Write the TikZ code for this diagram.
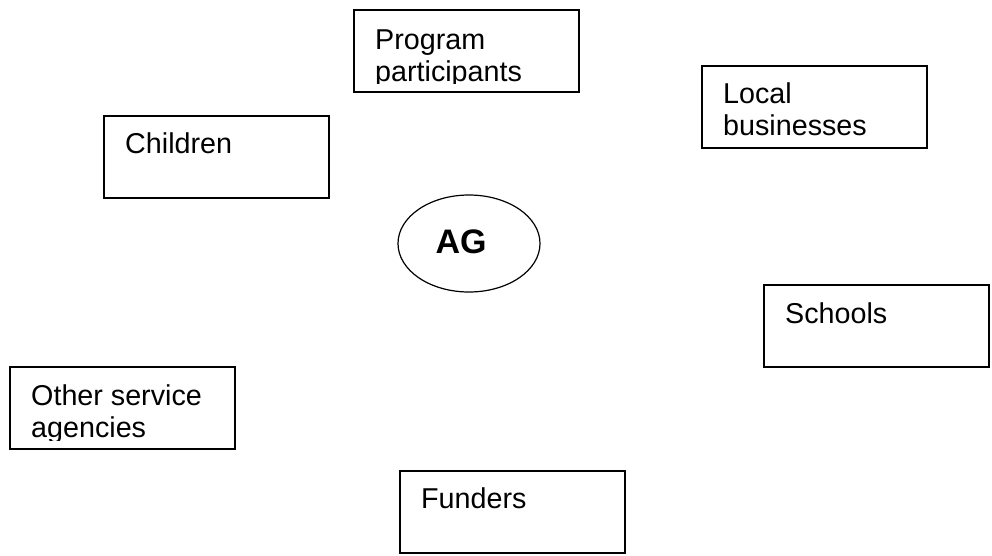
\documentclass[tikz,border=0pt]{standalone}
\usepackage{fontspec}
\setmainfont{Liberation Sans}
\usetikzlibrary{shapes.geometric}
\begin{document}
\begin{tikzpicture}[x=1pt,y=-1pt,
  stakebox/.style={draw, line width=1.5pt, rectangle, inner sep=0pt,
    minimum width=225pt, minimum height=82pt, anchor=north west},
  stakelabel/.style={inner sep=0pt, anchor=base west, align=left,
    font=\fontsize{28.7}{32}\selectfont},
  hub/.style={draw, line width=1.2pt, ellipse, inner sep=0pt,
    minimum width=142pt, minimum height=97pt},
  hublabel/.style={inner sep=0pt, anchor=base, font=\fontsize{34}{36}\selectfont\bfseries}]
\useasboundingbox (0,0) rectangle (992,555);

% a framed stakeholder box whose text is cut off near the bottom edge;
% #4 is the drop from the top edge to the baseline of the last line
\newcommand\stakeholder[5]{%
  \node[stakebox] (#1) at (#2,#3) {};
  \begin{scope}
    \clip (#1.north west) rectangle ([yshift=9.5pt]#1.south east);
    \node[stakelabel] (#1-t) at ([xshift=22pt,yshift=-#4]#1.north west) {#5};
  \end{scope}}

\stakeholder{prog}{353}{9}{72pt}{Program\\participants}
\stakeholder{local}{701}{65}{70pt}{Local\\businesses}
\stakeholder{child}{103}{115}{38pt}{Children}
\stakeholder{school}{763}{284}{39pt}{Schools}
\stakeholder{other}{9}{366}{71pt}{Other service\\agencies}
\stakeholder{fund}{399}{470}{38pt}{Funders}

% the organisation at the centre
\node[hub] (ag) at (469,243.5) {};
\node[hublabel] (ag-t) at (461,253) {AG};
\end{tikzpicture}
\end{document}
